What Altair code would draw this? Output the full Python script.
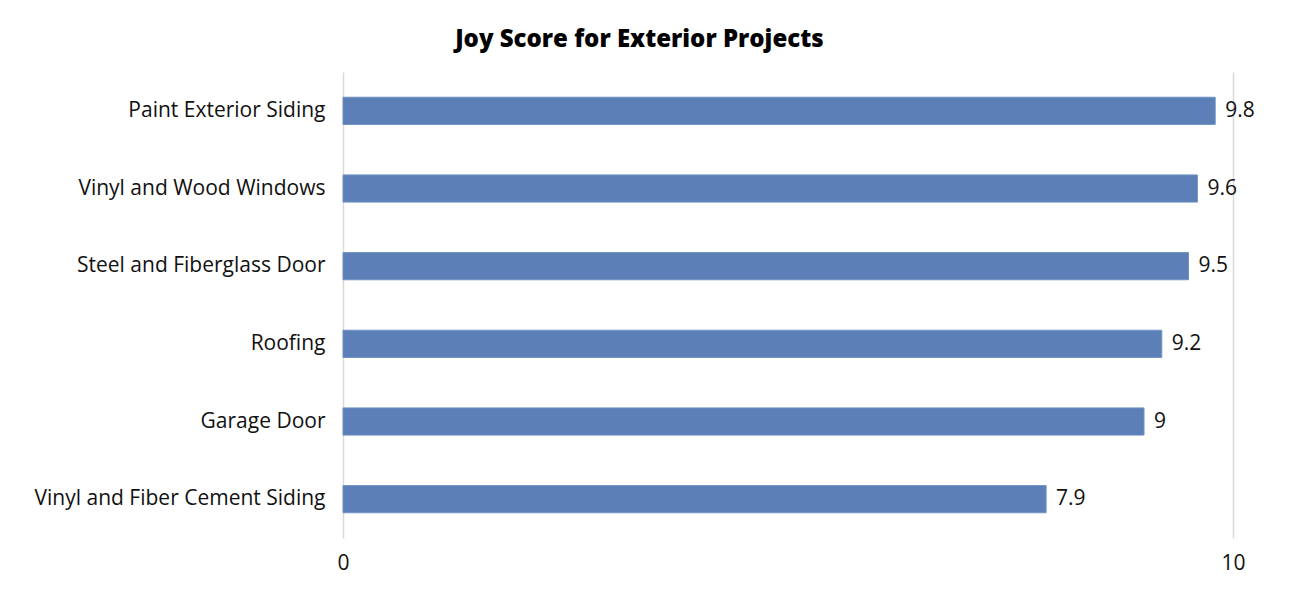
import altair as alt
import pandas as pd

projects = [
    "Paint Exterior Siding",
    "Vinyl and Wood Windows",
    "Steel and Fiberglass Door",
    "Roofing",
    "Garage Door",
    "Vinyl and Fiber Cement Siding",
]
scores = [9.8, 9.6, 9.5, 9.2, 9.0, 7.9]
labels = ["9.8", "9.6", "9.5", "9.2", "9", "7.9"]

df = pd.DataFrame({"project": projects, "score": scores, "label": labels})

FONT = "Open Sans"
FS = 21

y_enc = alt.Y(
    "project:N",
    sort=projects,
    title=None,
    scale=alt.Scale(paddingInner=0.65, paddingOuter=0.325),
    axis=alt.Axis(
        domain=False, ticks=False, grid=False, labelFont=FONT, labelFontSize=FS,
        labelColor="#111111", labelPadding=18, labelLimit=400,
    ),
)
x_enc = alt.X(
    "score:Q",
    title=None,
    scale=alt.Scale(domain=[0, 10], nice=False),
    axis=alt.Axis(
        values=[0, 10], format="d", domain=False, ticks=False, grid=True,
        gridColor="#d9d9d9", gridWidth=1.5, labelFont=FONT, labelFontSize=FS,
        labelColor="#111111", labelPadding=14, labelFlush=False,
    ),
)

bars = alt.Chart(df).mark_bar(color="#5b7fb6", stroke="#6f92c4", strokeWidth=1).encode(
    x=x_enc, y=y_enc
)
text = alt.Chart(df).mark_text(
    align="left", baseline="middle", dx=10, font=FONT, fontSize=FS, color="#111111"
).encode(x="score:Q", y=alt.Y("project:N", sort=projects), text="label:N")

chart = (
    alt.layer(bars, text, view=alt.ViewBackground(strokeWidth=0, stroke="transparent"))
    .properties(
        width=890,
        height=466,
        title=alt.TitleParams(
            "Joy Score for Exterior Projects", font=FONT, fontSize=24,
            fontWeight=800, color="#000000", anchor="middle", frame="bounds",
            offset=20, dx=-5,
        ),
        autosize=alt.AutoSizeParams(type="none"),
        padding={"left": 343, "top": 72, "right": 67, "bottom": 57},
    )
    .configure_view(strokeWidth=0, stroke="transparent")
    .configure(background="white")
)

chart.save("out.html", embed_options={"renderer": "svg", "actions": False})
